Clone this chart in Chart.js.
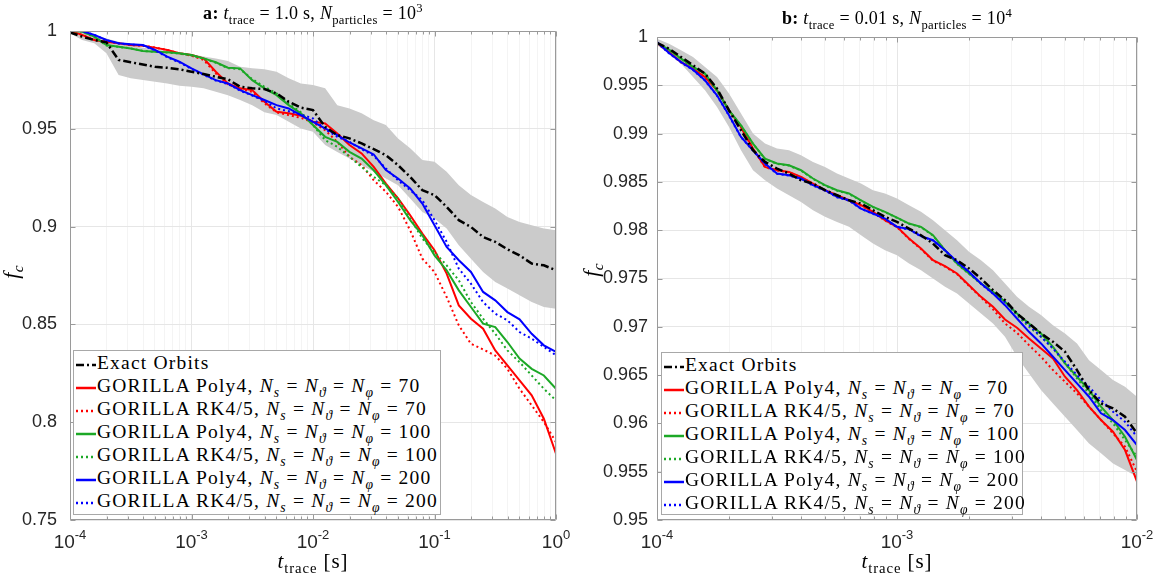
<!DOCTYPE html>
<html>
<head>
<meta charset="utf-8">
<title>GORILLA f_c</title>
<script src="https://cdn.jsdelivr.net/npm/chart.js@4.4.1/dist/chart.umd.min.js"></script>
<style>
  html, body { margin: 0; padding: 0; background: #fff; }
  #page { position: relative; width: 1163px; height: 577px; overflow: hidden; font-family: "Liberation Serif", "Times New Roman", serif; color: #000; }
  canvas { position: absolute; top: 0; }
  #chartA { left: 0; }
  #chartB { left: 580px; }
  .tex { position: absolute; white-space: nowrap; font-size: 18px; letter-spacing: 0.3px; line-height: 1; z-index: 2; }
  .tex sub, .tex sup { font-size: 70%; line-height: 0; }
  .center { transform: translateX(-50%); }
  .ylab { transform: translate(-50%, -50%) rotate(-90deg); font-size: 22px; }
  .legend { position: absolute; z-index: 2; background: #fff; border: 1px solid #a8a8a8; box-sizing: border-box; font-size: 19.5px; letter-spacing: 1.2px; padding-left: 2px; }
  .legend div { height: 23px; line-height: 23px; white-space: nowrap; }
  .legend sub { font-size: 70%; line-height: 0; }
  .legend svg { vertical-align: middle; margin-right: 1px; }
</style>
</head>
<body>
<div id="page">
  <canvas id="chartA" width="580" height="577"></canvas>
  <canvas id="chartB" width="583" height="577"></canvas>

  <div class="tex center" style="left:313px; top:4px;"><b>a:</b> <i>t</i><sub>trace</sub> = 1.0 s, <i>N</i><sub>particles</sub> = 10<sup>3</sup></div>
  <div class="tex center" style="left:897px; top:9px;"><b>b:</b> <i>t</i><sub>trace</sub> = 0.01 s, <i>N</i><sub>particles</sub> = 10<sup>4</sup></div>

  <div class="tex center" style="left:313px; top:551px; font-size:21px; letter-spacing:0.9px;"><i>t</i><sub>trace</sub> [s]</div>
  <div class="tex center" style="left:897px; top:551px; font-size:21px; letter-spacing:0.9px;"><i>t</i><sub>trace</sub> [s]</div>

  <div class="tex ylab" style="left:11px; top:272px;"><i>f</i><sub><i>c</i></sub></div>
  <div class="tex ylab" style="left:591px; top:270px;"><i>f</i><sub><i>c</i></sub></div>

  <div class="legend" id="legendA" style="left:73px; top:350px; width:368px; height:165px;"></div>
  <div class="legend" id="legendB" style="left:661px; top:352px; width:362px; height:163px;"></div>
</div>

<script>
// sample positions (log10 of t_trace in s)
const logTimeA = [-4, -3.9, -3.8, -3.7, -3.6, -3.5, -3.4, -3.3, -3.2, -3.1, -3, -2.9, -2.8, -2.7, -2.6, -2.5, -2.4, -2.3, -2.2, -2.1, -2,
  -1.9, -1.8, -1.7, -1.6, -1.5, -1.4, -1.3, -1.2, -1.1, -1, -0.9, -0.8, -0.7, -0.6, -0.5, -0.4, -0.3, -0.2, -0.1, 0];
const logTimeB = [-4, -3.95, -3.9, -3.85, -3.8, -3.75, -3.7, -3.65, -3.6, -3.55, -3.5, -3.45, -3.4, -3.35, -3.3, -3.25, -3.2, -3.15, -3.1, -3.05, -3,
  -2.95, -2.9, -2.85, -2.8, -2.75, -2.7, -2.65, -2.6, -2.55, -2.5, -2.45, -2.4, -2.35, -2.3, -2.25, -2.2, -2.15, -2.1, -2.05, -2];

// panel a: t_trace = 1.0 s, 10^3 particles
const exactA = [0.9993, 0.9971, 0.9954, 0.9942, 0.9852, 0.984, 0.9829, 0.9817, 0.9812, 0.9804, 0.9792, 0.978, 0.9766, 0.9753, 0.9715, 0.9707, 0.9703, 0.9681, 0.9638, 0.9608, 0.9596,
  0.951, 0.9468, 0.9451, 0.9425, 0.9396, 0.9365, 0.9314, 0.9254, 0.9186, 0.9161, 0.9101, 0.9033, 0.8998, 0.8947, 0.8922, 0.8884, 0.8853, 0.8811, 0.8802, 0.8777];
const upperA = [1.0, 1.0, 0.998, 0.9962, 0.9945, 0.9928, 0.9915, 0.9908, 0.9898, 0.9891, 0.9881, 0.9869, 0.986, 0.9846, 0.9817, 0.9809, 0.9805, 0.9792, 0.9758, 0.9732, 0.9724,
  0.9707, 0.9621, 0.9604, 0.9579, 0.9544, 0.9519, 0.9451, 0.94, 0.934, 0.9331, 0.928, 0.9212, 0.9161, 0.9126, 0.9092, 0.9049, 0.9024, 0.9007, 0.899, 0.8981];
const lowerA = [0.9988, 0.9954, 0.9937, 0.9886, 0.9775, 0.9758, 0.9749, 0.9741, 0.9732, 0.972, 0.9715, 0.9707, 0.9689, 0.9672, 0.9647, 0.9621, 0.9584, 0.957, 0.9536, 0.9502, 0.9485,
  0.9417, 0.9382, 0.9348, 0.9314, 0.928, 0.9246, 0.9212, 0.9144, 0.9075, 0.9041, 0.899, 0.8905, 0.8836, 0.8768, 0.8717, 0.8683, 0.8649, 0.8614, 0.8589, 0.858];
const poly70A = [1.0, 0.998, 0.9954, 0.9945, 0.9937, 0.9928, 0.9925, 0.9915, 0.9903, 0.9886, 0.9877, 0.986, 0.9792, 0.9732, 0.9707, 0.9698, 0.9638, 0.9587, 0.9579, 0.9567, 0.9536,
  0.9527, 0.9476, 0.9417, 0.9374, 0.9305, 0.922, 0.9144, 0.9058, 0.8964, 0.8879, 0.876, 0.8597, 0.8529, 0.8478, 0.8367, 0.829, 0.8214, 0.8137, 0.8018, 0.7839];
const rk70A = [1.0, 0.998, 0.9954, 0.9945, 0.9937, 0.9928, 0.9925, 0.9915, 0.9903, 0.9886, 0.9874, 0.9852, 0.9783, 0.9727, 0.9703, 0.9689, 0.963, 0.9584, 0.957, 0.9556, 0.9532,
  0.9493, 0.9433, 0.9357, 0.9314, 0.9237, 0.9178, 0.9101, 0.8981, 0.8836, 0.8768, 0.864, 0.8495, 0.8401, 0.8372, 0.8341, 0.8273, 0.8171, 0.8086, 0.8001, 0.7898];
const poly100A = [1.0, 0.9997, 0.9971, 0.9928, 0.992, 0.9911, 0.9898, 0.9894, 0.9891, 0.9886, 0.9877, 0.986, 0.984, 0.9812, 0.9809, 0.9749, 0.9707, 0.9672, 0.9621, 0.9579, 0.9519,
  0.9459, 0.9433, 0.9382, 0.9348, 0.9288, 0.9212, 0.9126, 0.9033, 0.8956, 0.8853, 0.8777, 0.8674, 0.8589, 0.8504, 0.8486, 0.841, 0.8325, 0.8273, 0.8239, 0.8171];
const rk100A = [1.0, 0.9997, 0.9969, 0.9926, 0.9919, 0.9911, 0.9898, 0.9893, 0.989, 0.9884, 0.9875, 0.9858, 0.9838, 0.981, 0.9805, 0.9754, 0.9715, 0.9681, 0.963, 0.9584, 0.9519,
  0.9442, 0.9408, 0.9357, 0.9305, 0.9254, 0.9212, 0.9144, 0.9041, 0.8939, 0.887, 0.8802, 0.8725, 0.8614, 0.8529, 0.8452, 0.8367, 0.8307, 0.8239, 0.8171, 0.8111];
const poly200A = [1.0, 1.0, 0.998, 0.9954, 0.9937, 0.9932, 0.9928, 0.9903, 0.9869, 0.9843, 0.9809, 0.9778, 0.9749, 0.9732, 0.9698, 0.9672, 0.9647, 0.9621, 0.9604, 0.957, 0.9536,
  0.9502, 0.9468, 0.943, 0.94, 0.9369, 0.9289, 0.9246, 0.9195, 0.9118, 0.9007, 0.8896, 0.8828, 0.8768, 0.8666, 0.8623, 0.8563, 0.8526, 0.8452, 0.8393, 0.8359];
const rk200A = [1.0, 1.0, 0.998, 0.9952, 0.9936, 0.9931, 0.9926, 0.9901, 0.9866, 0.984, 0.9806, 0.9776, 0.9747, 0.9729, 0.9695, 0.967, 0.9643, 0.9604, 0.959, 0.9573, 0.9553,
  0.9498, 0.9459, 0.9433, 0.9396, 0.9362, 0.9297, 0.9237, 0.9186, 0.9135, 0.9033, 0.8922, 0.8785, 0.8708, 0.8614, 0.8555, 0.8521, 0.8461, 0.8427, 0.8385, 0.8342];

// panel b: t_trace = 0.01 s, 10^4 particles
const exactB = [0.99938, 0.99879, 0.99793, 0.99707, 0.99621, 0.99466, 0.99241, 0.99035, 0.98828, 0.98707, 0.98638, 0.98586, 0.98517, 0.98483, 0.98414, 0.98362, 0.9831, 0.98276, 0.98207, 0.98138, 0.98086,
  0.98017, 0.97948, 0.97862, 0.97741, 0.9769, 0.97604, 0.975, 0.97379, 0.97276, 0.97138, 0.97035, 0.96931, 0.96845, 0.96742, 0.96552, 0.96345, 0.96207, 0.96155, 0.96069, 0.95897];
const upperB = [0.99983, 0.99931, 0.99862, 0.99793, 0.9969, 0.99586, 0.99414, 0.99207, 0.99, 0.98897, 0.98845, 0.98828, 0.98776, 0.98707, 0.98655, 0.98586, 0.98535, 0.98483, 0.98414, 0.9838, 0.98328,
  0.98259, 0.9819, 0.98104, 0.98, 0.97897, 0.97776, 0.9769, 0.97586, 0.97448, 0.9731, 0.97207, 0.97121, 0.97017, 0.96931, 0.96828, 0.96655, 0.96552, 0.96448, 0.9638, 0.96276];
const lowerB = [0.99914, 0.99828, 0.99724, 0.99586, 0.99448, 0.99276, 0.99069, 0.98828, 0.98621, 0.98517, 0.98431, 0.98362, 0.98293, 0.98207, 0.98138, 0.98086, 0.98035, 0.97948, 0.97862, 0.97793, 0.97741,
  0.97655, 0.97586, 0.975, 0.97414, 0.97345, 0.97242, 0.97138, 0.97035, 0.96897, 0.9669, 0.96517, 0.96345, 0.96207, 0.96069, 0.95931, 0.95793, 0.9569, 0.95586, 0.95517, 0.95448];
const poly70B = [0.99938, 0.99845, 0.99741, 0.99672, 0.99586, 0.99448, 0.99241, 0.99069, 0.98845, 0.98655, 0.98621, 0.98604, 0.98552, 0.98483, 0.98414, 0.98362, 0.9831, 0.98259, 0.9819, 0.98104, 0.98035,
  0.97914, 0.9781, 0.9769, 0.97628, 0.97552, 0.97431, 0.9731, 0.97207, 0.97076, 0.9699, 0.9688, 0.96776, 0.96673, 0.96483, 0.96345, 0.96173, 0.96035, 0.95914, 0.95724, 0.95397];
const rk70B = [0.99936, 0.99843, 0.99738, 0.99669, 0.99583, 0.99445, 0.99238, 0.99066, 0.98841, 0.98652, 0.98617, 0.986, 0.98548, 0.98479, 0.9841, 0.98359, 0.98306, 0.98255, 0.98186, 0.981, 0.98031,
  0.9791, 0.97805, 0.97684, 0.97622, 0.97545, 0.97424, 0.97303, 0.9718, 0.97035, 0.96938, 0.9681, 0.9669, 0.96552, 0.96431, 0.9631, 0.96173, 0.96035, 0.95897, 0.95759, 0.955];
const poly100B = [0.99938, 0.99869, 0.99776, 0.9969, 0.99621, 0.99448, 0.99241, 0.99086, 0.98897, 0.98741, 0.9869, 0.98672, 0.98621, 0.98535, 0.98466, 0.98414, 0.9838, 0.9831, 0.98242, 0.9819, 0.98131,
  0.98069, 0.98035, 0.97948, 0.97793, 0.97655, 0.97552, 0.97448, 0.97362, 0.97259, 0.97138, 0.97035, 0.96931, 0.96793, 0.96621, 0.96483, 0.96345, 0.96173, 0.96035, 0.95862, 0.95621];
const rk100B = [0.99936, 0.99866, 0.99772, 0.99686, 0.99617, 0.99445, 0.99238, 0.99083, 0.98893, 0.98738, 0.98686, 0.98669, 0.98617, 0.98531, 0.98462, 0.9841, 0.98376, 0.98306, 0.98238, 0.98186, 0.98128,
  0.98066, 0.98031, 0.97945, 0.9779, 0.97652, 0.97548, 0.97445, 0.97358, 0.97255, 0.97121, 0.97, 0.96897, 0.96776, 0.96621, 0.96466, 0.9631, 0.96138, 0.96, 0.95828, 0.95655];
const poly200B = [0.99948, 0.99834, 0.99741, 0.99662, 0.99552, 0.99397, 0.9919, 0.98966, 0.98828, 0.9869, 0.98586, 0.98569, 0.98535, 0.98466, 0.98414, 0.98345, 0.9831, 0.98224, 0.98173, 0.98121, 0.98035,
  0.98011, 0.97938, 0.97897, 0.97793, 0.97673, 0.97569, 0.97448, 0.97345, 0.97224, 0.97086, 0.96948, 0.96828, 0.9669, 0.96552, 0.96414, 0.96276, 0.96104, 0.96035, 0.95931, 0.95776];
const rk200B = [0.99945, 0.99831, 0.99738, 0.99659, 0.99548, 0.99393, 0.99186, 0.98962, 0.98824, 0.98686, 0.98583, 0.98566, 0.98531, 0.98462, 0.9841, 0.98341, 0.98306, 0.98221, 0.98169, 0.98117, 0.98031,
  0.98007, 0.97934, 0.97893, 0.9779, 0.9767, 0.97566, 0.97445, 0.97341, 0.97259, 0.97138, 0.97017, 0.96897, 0.96776, 0.96638, 0.965, 0.9638, 0.96242, 0.96121, 0.96017, 0.95862];

// axis ticks
const yTicksA = [0.75, 0.8, 0.85, 0.9, 0.95, 1];
const yTicksB = [0.95, 0.955, 0.96, 0.965, 0.97, 0.975, 0.98, 0.985, 0.99, 0.995, 1];

const legendLabels = [
  'Exact Orbits',
  'GORILLA Poly4, <i>N</i><sub><i>s</i></sub> = <i>N</i><sub><i>ϑ</i></sub> = <i>N</i><sub><i>φ</i></sub> = 70',
  'GORILLA RK4/5, <i>N</i><sub><i>s</i></sub> = <i>N</i><sub><i>ϑ</i></sub> = <i>N</i><sub><i>φ</i></sub> = 70',
  'GORILLA Poly4, <i>N</i><sub><i>s</i></sub> = <i>N</i><sub><i>ϑ</i></sub> = <i>N</i><sub><i>φ</i></sub> = 100',
  'GORILLA RK4/5, <i>N</i><sub><i>s</i></sub> = <i>N</i><sub><i>ϑ</i></sub> = <i>N</i><sub><i>φ</i></sub> = 100',
  'GORILLA Poly4, <i>N</i><sub><i>s</i></sub> = <i>N</i><sub><i>ϑ</i></sub> = <i>N</i><sub><i>φ</i></sub> = 200',
  'GORILLA RK4/5, <i>N</i><sub><i>s</i></sub> = <i>N</i><sub><i>ϑ</i></sub> = <i>N</i><sub><i>φ</i></sub> = 200'
];

const RED = '#ff0000', GREEN = 'rgb(28,168,38)', BLUE = '#0000ff', BAND = '#cbcbcb';
const DASHDOT = [8, 3, 2, 3], DOTTED = [2, 3], SOLID = [];
const lineStyles = [
  { color: '#000', dash: DASHDOT },
  { color: RED, dash: SOLID },
  { color: RED, dash: DOTTED },
  { color: GREEN, dash: SOLID },
  { color: GREEN, dash: DOTTED },
  { color: BLUE, dash: SOLID },
  { color: BLUE, dash: DOTTED }
];

// 1..9 x 10^n between min and max, decades are major
function logTicks(min, max) {
  const ticks = [];
  for (let e = Math.round(Math.log10(min)); e <= Math.round(Math.log10(max)); e++) {
    for (let m = 1; m <= 9; m++) {
      const v = m * Math.pow(10, e);
      if (v >= min * 0.999 && v <= max * 1.001) ticks.push({ value: v, major: m === 1 });
    }
  }
  return ticks;
}

// box, inward tick marks and 10^n labels, drawn like matlab axes
const frame = {
  id: 'frame',
  afterDraw(chart) {
    const { ctx, chartArea: a, scales: { x, y } } = chart;
    ctx.save();
    ctx.strokeStyle = '#9a9a9a';
    ctx.lineWidth = 1;
    ctx.beginPath();
    const L = Math.round(a.left) + 0.5, R = Math.round(a.right) - 0.5;
    const T = Math.round(a.top) + 0.5, B = Math.round(a.bottom) - 0.5;
    ctx.rect(L, T, R - L, B - T);
    x.ticks.forEach(t => {
      const px = Math.round(x.getPixelForValue(t.value)) + 0.5;
      const len = t.major ? 5 : 3;
      ctx.moveTo(px, B); ctx.lineTo(px, B - len);
      ctx.moveTo(px, T); ctx.lineTo(px, T + len);
    });
    y.ticks.forEach(t => {
      const py = Math.round(y.getPixelForValue(t.value)) + 0.5;
      ctx.moveTo(L, py); ctx.lineTo(L + 5, py);
      ctx.moveTo(R, py); ctx.lineTo(R - 5, py);
    });
    ctx.stroke();

    ctx.fillStyle = '#262626';
    ctx.textBaseline = 'alphabetic';
    ctx.textAlign = 'left';
    x.ticks.filter(t => t.major).forEach(t => {
      const px = x.getPixelForValue(t.value);
      const exp = String(Math.round(Math.log10(t.value)));
      ctx.font = '19px "Liberation Sans", Arial, sans-serif';
      const wb = ctx.measureText('10').width;
      ctx.font = '13px "Liberation Sans", Arial, sans-serif';
      const we = ctx.measureText(exp).width;
      const x0 = px - (wb + we) / 2;
      ctx.font = '19px "Liberation Sans", Arial, sans-serif';
      ctx.fillText('10', x0, a.bottom + 28);
      ctx.font = '13px "Liberation Sans", Arial, sans-serif';
      ctx.fillText(exp, x0 + wb, a.bottom + 19);
    });
    ctx.restore();
  }
};

function makeChart(id, cfg) {
  const pts = ys => ys.map((v, i) => ({ x: Math.pow(10, cfg.logT[i]), y: v }));
  const curves = [cfg.exact, cfg.poly70, cfg.rk70, cfg.poly100, cfg.rk100, cfg.poly200, cfg.rk200];
  const datasets = curves.map((ys, i) => ({
    data: pts(ys),
    borderColor: lineStyles[i].color,
    borderWidth: i === 0 ? 2.5 : 2,
    borderDash: lineStyles[i].dash,
    pointRadius: 0,
    fill: false,
    tension: 0,
    order: i === 0 ? 0 : 8 - i
  }));
  // grey band: upper fills down to lower
  datasets.push({ data: pts(cfg.upper), borderWidth: 0, pointRadius: 0, backgroundColor: BAND, fill: '+1', order: 20 });
  datasets.push({ data: pts(cfg.lower), borderWidth: 0, pointRadius: 0, fill: false, order: 20 });

  return new Chart(document.getElementById(id), {
    type: 'line',
    data: { datasets },
    plugins: [frame],
    options: {
      responsive: false,
      animation: false,
      events: [],
      layout: { padding: { top: cfg.padTop, right: cfg.padRight, left: 0, bottom: 0 } },
      plugins: { legend: { display: false }, tooltip: { enabled: false }, title: { display: false } },
      scales: {
        x: {
          type: 'logarithmic',
          min: cfg.xMin,
          max: cfg.xMax,
          afterBuildTicks: s => { s.ticks = logTicks(cfg.xMin, cfg.xMax); },
          afterFit: s => { s.height = 57; },
          ticks: { display: false },
          grid: { drawTicks: false, color: c => (c.tick && c.tick.major ? '#e6e6e6' : '#f4f4f4') },
          border: { display: false }
        },
        y: {
          min: cfg.yTicks[0],
          max: cfg.yTicks[cfg.yTicks.length - 1],
          afterBuildTicks: s => { s.ticks = cfg.yTicks.map(v => ({ value: v })); },
          afterFit: s => { s.width = cfg.yWidth; },
          ticks: {
            autoSkip: false,
            padding: cfg.yPad,
            color: '#262626',
            font: { family: '"Liberation Sans", Arial, sans-serif', size: 18 },
            callback: v => String(+v.toFixed(3))
          },
          grid: { drawTicks: false, color: '#e6e6e6' },
          border: { display: false }
        }
      }
    }
  });
}

function fillLegend(id) {
  const el = document.getElementById(id);
  el.innerHTML = legendLabels.map((txt, i) => {
    const s = lineStyles[i];
    const dash = s.dash.length ? ` stroke-dasharray="${s.dash.join(' ')}"` : '';
    return `<div><svg width="20" height="6"><line x1="0" y1="3" x2="20" y2="3" stroke="${s.color}" stroke-width="2.5"${dash}/></svg>${txt}</div>`;
  }).join('');
}

makeChart('chartA', {
  logT: logTimeA, xMin: 1e-4, xMax: 1, yTicks: yTicksA,
  exact: exactA, upper: upperA, lower: lowerA,
  poly70: poly70A, rk70: rk70A, poly100: poly100A, rk100: rk100A, poly200: poly200A, rk200: rk200A,
  padTop: 31, padRight: 24, yWidth: 70, yPad: 13
});
makeChart('chartB', {
  logT: logTimeB, xMin: 1e-4, xMax: 1e-2, yTicks: yTicksB,
  exact: exactB, upper: upperB, lower: lowerB,
  poly70: poly70B, rk70: rk70B, poly100: poly100B, rk100: rk100B, poly200: poly200B, rk200: rk200B,
  padTop: 37, padRight: 26, yWidth: 77, yPad: 9
});
fillLegend('legendA');
fillLegend('legendB');
</script>
</body>
</html>
